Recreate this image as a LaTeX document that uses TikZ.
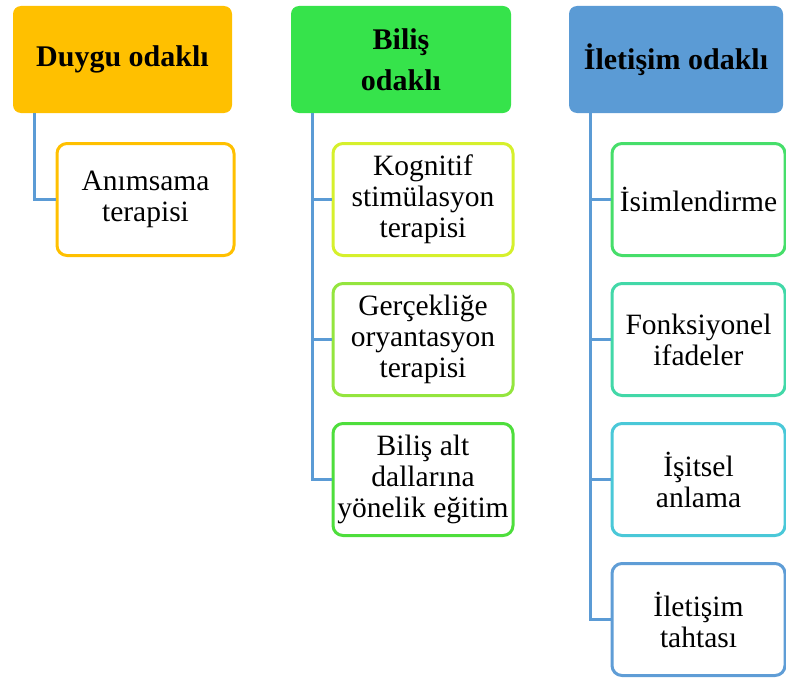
\documentclass[tikz,border=0pt]{standalone}
\usepackage{fontspec}
\setmainfont{Liberation Serif}
\definecolor{orng}{HTML}{FFC000}
\definecolor{grn}{HTML}{36E34B}
\definecolor{blu}{HTML}{5B9BD5}
\definecolor{cKog}{HTML}{D6F02C}
\definecolor{cGer}{HTML}{94E53E}
\definecolor{cBil}{HTML}{4EDE3C}
\definecolor{cIsim}{HTML}{46DE6A}
\definecolor{cFonk}{HTML}{42D8A8}
\definecolor{cIsit}{HTML}{4AC8D8}
\definecolor{cTah}{HTML}{5F9DD6}
\tikzset{
  head/.style={rounded corners=8pt, inner sep=0pt, align=center,
    font=\fontsize{30}{41}\selectfont\bfseries, minimum height=107pt},
  child/.style={draw=#1, fill=white, line width=3pt, rounded corners=10pt, inner sep=0pt,
    align=center, font=\fontsize{29.5}{31}\selectfont, minimum height=112pt},
  conn/.style={draw=blu, line width=3pt}
}
\begin{document}
\begin{tikzpicture}[x=1pt,y=-1pt]
\useasboundingbox (0,0) rectangle (786,677);
% headers
\node[head, fill=orng, minimum width=219pt] (h1) at (122.5,59.5) {Duygu odaklı};
\node[head, fill=grn, minimum width=220pt] (h2) at (401,59.5) {Biliş\\odaklı};
\node[head, fill=blu, minimum width=214pt] (h3) at (676,59.5) {İletişim odaklı};
% children
\node[child=orng, minimum width=177pt] (a1) at (145.5,199.5) {Anımsama\\terapisi};
\node[child=cKog, minimum width=180pt] (b1) at (423,199.5) {Kognitif\\stimülasyon\\terapisi};
\node[child=cGer, minimum width=180pt] (b2) at (423,339.5) {Gerçekliğe\\oryantasyon\\terapisi};
\node[child=cBil, minimum width=180pt] (b3) at (423,479.5) {Biliş alt\\dallarına\\yönelik eğitim};
\node[child=cIsim, minimum width=173pt] (c1) at (698.5,199.5) {İsimlendirme};
\node[child=cFonk, minimum width=173pt] (c2) at (698.5,339.5) {Fonksiyonel\\ifadeler};
\node[child=cIsit, minimum width=173pt] (c3) at (698.5,479.5) {İşitsel\\anlama};
\node[child=cTah, minimum width=173pt] (c4) at (698.5,619.5) {İletişim\\tahtası};
% connectors
\coordinate (t1) at ([xshift=21.5pt]h1.south west);
\coordinate (t2) at ([xshift=21.5pt]h2.south west);
\coordinate (t3) at ([xshift=21.5pt]h3.south west);
\draw[conn] (t1) |- (a1.west);
\draw[conn] (t2) |- (b1.west);
\draw[conn] (t2) |- (b2.west);
\draw[conn] (t2) |- (b3.west);
\draw[conn] (t3) |- (c1.west);
\draw[conn] (t3) |- (c2.west);
\draw[conn] (t3) |- (c3.west);
\draw[conn] (t3) |- (c4.west);
\end{tikzpicture}
\end{document}
